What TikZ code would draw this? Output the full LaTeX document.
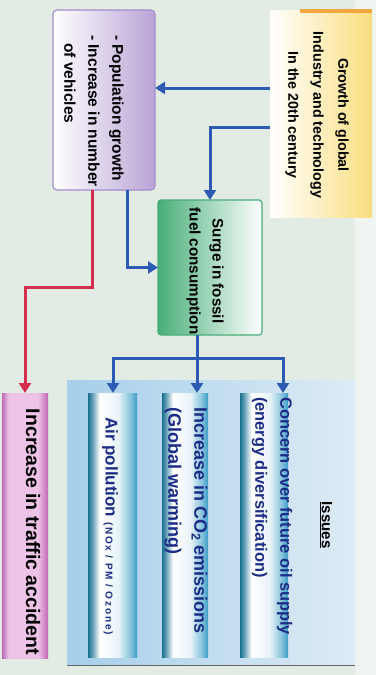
\documentclass[tikz,border=0pt]{standalone}
\usepackage{fontspec}
\setmainfont{Liberation Sans}
\usetikzlibrary{arrows.meta}
\definecolor{bgc}{HTML}{E2EBE4}
\definecolor{panelL}{HTML}{A6CFEA}
\definecolor{panelR}{HTML}{DDEBF5}
\definecolor{arrblue}{HTML}{2D5AB2}
\definecolor{arrred}{HTML}{D52E4C}
\definecolor{cylL}{HTML}{17708F}
\definecolor{cylR}{HTML}{3B9DC6}
\definecolor{cyltxt}{HTML}{1C2C86}
\definecolor{pinkE}{HTML}{BE68B4}
\definecolor{pinkM}{HTML}{EEC3E8}
\definecolor{purpE}{HTML}{A68CCB}
\definecolor{greenE}{HTML}{48AE79}
\definecolor{yellowR}{HTML}{F9DE7E}
\definecolor{orangeT}{HTML}{F2A640}
\pgfdeclarehorizontalshading{cylsh}{100bp}{color(0bp)=(cylL); color(25bp)=(cylL); color(29bp)=(cylL!70!white); color(37bp)=(white); color(56bp)=(white!88!cylR); color(68bp)=(cylR!60!white); color(75bp)=(cylR); color(100bp)=(cylR)}
\pgfdeclarehorizontalshading{pinksh}{100bp}{color(0bp)=(pinkE); color(25bp)=(pinkE); color(32bp)=(pinkM); color(64bp)=(pinkM); color(75bp)=(pinkE); color(100bp)=(pinkE)}
\begin{document}
\begin{tikzpicture}[x=1pt,y=-1pt,
  boxsh/.style={inner sep=0pt, outer sep=0pt},
  cyl/.style={boxsh, shading=cylsh},
  rtxt/.style={rotate=-90, inner sep=0pt, font=\bfseries},
  conn/.style={line width=3pt, draw=arrblue},
  arr/.style={conn, -{Triangle[width=12pt,length=10pt]}},
  redarr/.style={line width=3pt, draw=arrred, -{Triangle[width=12pt,length=10pt]}}
]
% background
\fill[bgc] (0,0) rectangle (376,675);
\fill[white, opacity=0.5] (355,0) rectangle (376,675);
\shade[left color=panelL, right color=panelR] (67,380) rectangle (355,665);
\draw[black!60, line width=0.8pt] (67,665) -- (355,665);

% boxes
\node[boxsh, minimum width=102pt, minimum height=207pt,
      left color=white, right color=yellowR] (yellow) at (321,113.5) {};
\fill[orangeT] (300,9) rectangle (372,13);
\node[boxsh, minimum width=102pt, minimum height=180pt, rounded corners=4pt,
      draw=purpE, line width=1.2pt, left color=white, right color=purpE!80] (purple) at (104,100) {};
\node[boxsh, minimum width=104pt, minimum height=135pt, rounded corners=3pt,
      draw=greenE, line width=1.2pt, left color=greenE, right color=white] (green) at (210,267.5) {};
\node[boxsh, minimum width=46pt, minimum height=265pt, shading=pinksh] (pink) at (25,525.5) {};
\node[cyl, minimum width=49pt, minimum height=264pt] (air) at (112.5,525) {};
\node[cyl, minimum width=46pt, minimum height=264pt] (co2) at (185,525) {};
\node[cyl, minimum width=48pt, minimum height=264pt] (oil) at (264,525) {};

% texts
\node[rtxt, align=center, font=\bfseries\fontsize{14.3}{25}\selectfont] (tyellow) at (317,115)
  {Growth of global\\Industry and technology\\In the 20th century};
\node[rtxt, align=left, anchor=west, font=\bfseries\fontsize{15.5}{24}\selectfont] (tpurple) at (94,35)
  {- Population growth\\- Increase in number\\\hspace*{8pt}of vehicles};
\node[rtxt, align=center, font=\bfseries\fontsize{15.2}{23}\selectfont] (tgreen) at (205,271)
  {Surge in fossil\\fuel consumption};
\node[rtxt, font=\bfseries\fontsize{19.5}{22}\selectfont] (tpink) at (33,532)
  {Increase in traffic accident};
\node[rtxt, anchor=west, text=cyltxt, font=\bfseries\fontsize{17}{20}\selectfont] (tair) at (110,417)
  {Air pollution {\fontsize{10}{10}\selectfont\addfontfeature{LetterSpace=18}(NOx / PM / Ozone)}};
\node[rtxt, anchor=west, align=left, text=cyltxt, font=\bfseries\fontsize{18}{26}\selectfont] (tco2) at (186,407)
  {Increase in CO\textsubscript{2} emissions\\(Global warming)};
\node[rtxt, anchor=west, align=left, text=cyltxt, font=\bfseries\fontsize{16.4}{25}\selectfont] (toil) at (272,397)
  {Concern over future oil supply\\(energy diversification)};
\node[rtxt, font=\bfseries\fontsize{15}{18}\selectfont] (tissues) at (326,525) {\underline{Issues}};

% connectors
\coordinate (y1) at (0,88);
\coordinate (y2) at (0,127);
\coordinate (xp) at (127,0);
\coordinate (xr) at (92,0);
\coordinate (rk) at (25,287);
\coordinate (jA) at (113,358);
\coordinate (jB) at (197,358);
\coordinate (jC) at (283,358);

\draw[arr] (yellow.west |- y1) -- (purple.east |- y1);
\draw[arr] (yellow.west |- y2) -| (green.north);
\draw[arr] (purple.south -| xp) |- (green.west);
\draw[redarr] (purple.south -| xr) |- (rk) -- (pink.north);
\draw[conn] (green.south -| jB) -- (jB);
\draw[conn, line cap=rect] (jA) -- (jC);
\draw[arr] (jA) -- (air.north -| jA);
\draw[arr] (jB) -- (co2.north -| jB);
\draw[arr] (jC) -- (oil.north -| jC);
\end{tikzpicture}
\end{document}
